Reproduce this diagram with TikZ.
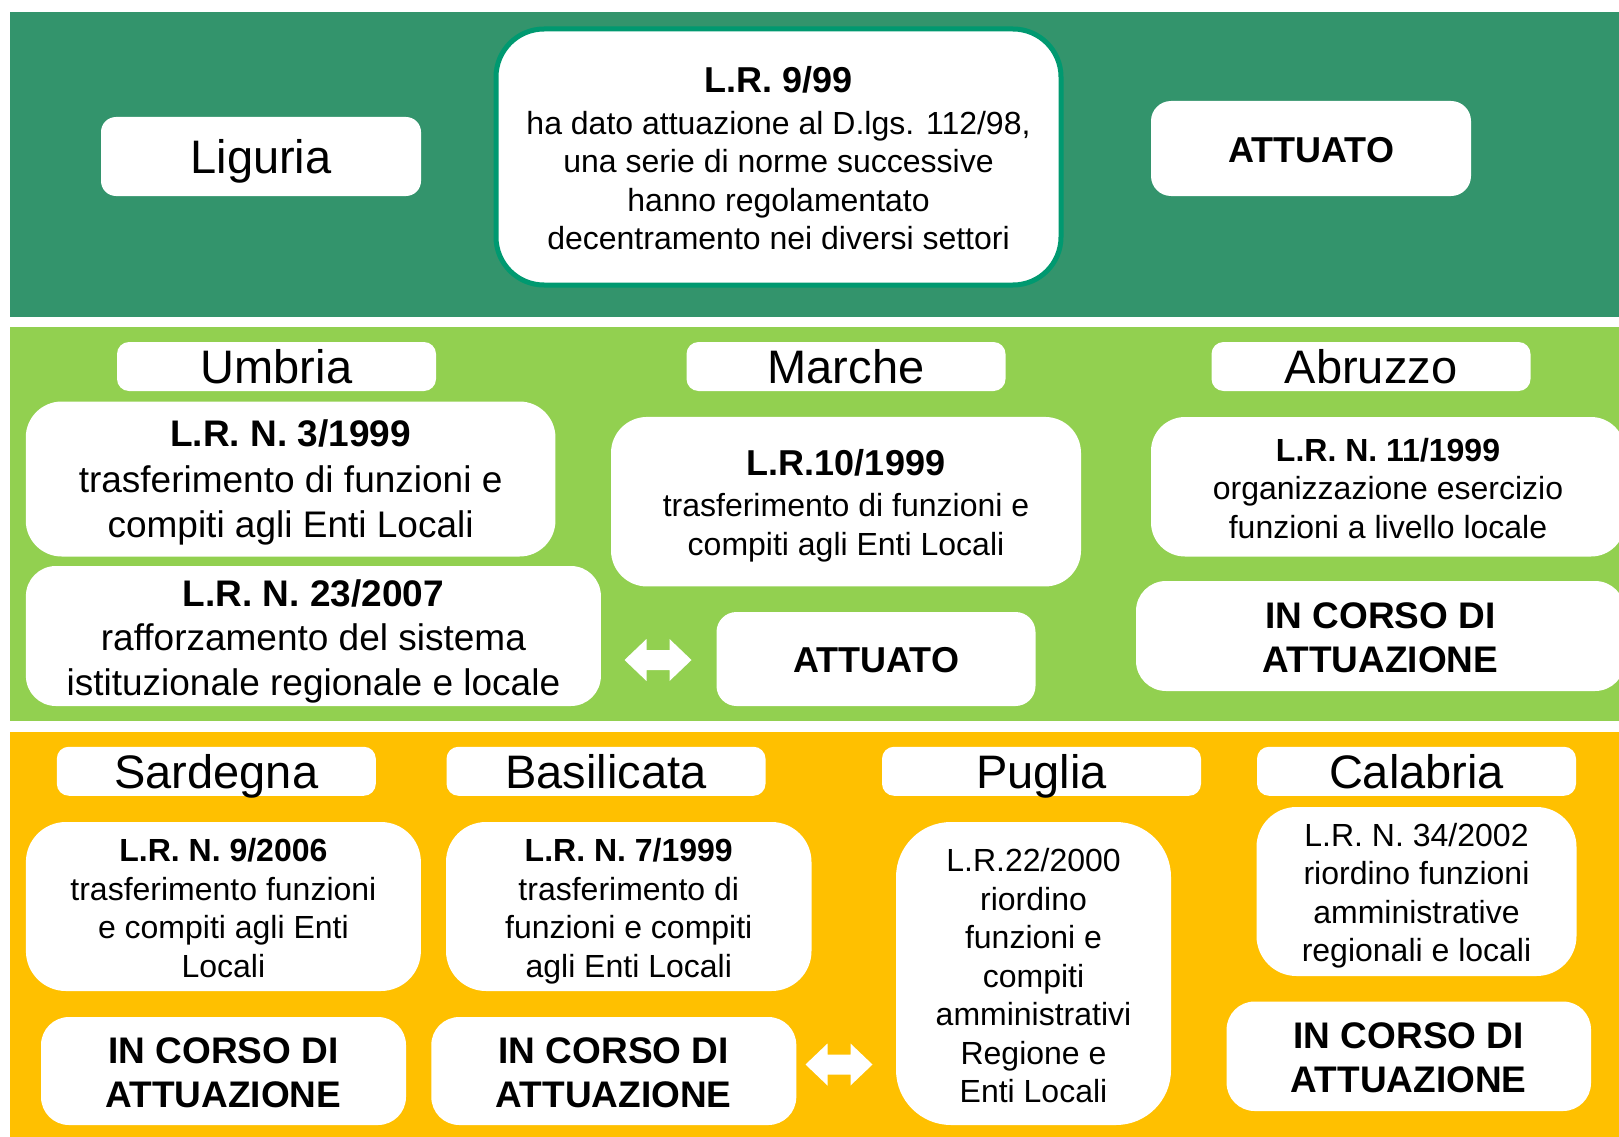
\documentclass[tikz,border=0pt]{standalone}
\usepackage{fontspec}
\setmainfont{Liberation Sans}
\definecolor{topgreen}{RGB}{51,148,108}
\definecolor{midgreen}{RGB}{146,208,80}
\definecolor{gold}{RGB}{255,192,0}
\definecolor{teal}{RGB}{0,153,112}
\tikzset{
  band/.style={fill=#1, draw=none},
  lbl/.style={fill=white, rounded corners=12pt, inner sep=0pt, minimum width=319pt, minimum height=49pt,
    font=\fontsize{47}{56}\selectfont, text height=34pt, text depth=0pt},
  shapebox/.style={fill=white, rounded corners=#1, inner sep=0pt},
  smalltxt/.style={inner sep=0pt, align=center, font=\fontsize{32}{38.5}\selectfont},
  bigtxt/.style={inner sep=0pt, align=center, font=\fontsize{37}{45}\selectfont},
  statustxt/.style={inner sep=0pt, align=center, font=\fontsize{37}{44}\selectfont\bfseries},
  dblarrow/.pic={\fill[white] (-33.5,0) -- (-11.5,-21) -- (-11.5,-10) -- (11.5,-10) -- (11.5,-21)
     -- (33.5,0) -- (11.5,21) -- (11.5,10) -- (-11.5,10) -- (-11.5,21) -- cycle;}
}
\begin{document}
\begin{tikzpicture}[x=1pt,y=-1pt]
\useasboundingbox (0,0) rectangle (1619,1137);
\fill[white] (0,0) rectangle (1619,1137);
% bands
\fill[band=topgreen] (10,12) rectangle (1619,316.7);
\fill[band=midgreen] (10,327) rectangle (1619,721);
\fill[band=gold] (10,732) rectangle (1619,1137);

% --- Liguria row
\node[lbl, minimum width=320pt, minimum height=79pt, rounded corners=15pt] (liguria) at (261,156.5) {Liguria};
\node[shapebox=48pt, draw=teal, line width=5pt, minimum width=565pt, minimum height=256pt] (lr999) at (778.5,157) {};
\node[smalltxt] (lr999t) at ([yshift=-1.5pt]lr999.center)
  {{\fontsize{36}{42}\selectfont\bfseries L.R. 9/99}\\[3pt]
   ha dato attuazione al D.lgs. 112/98,\\
   una serie di norme successive\\
   hanno regolamentato\\
   decentramento nei diversi settori};
\node[shapebox=20pt, minimum width=320pt, minimum height=95pt] (att1) at (1311,148.5) {};
\node[statustxt] (att1t) at ([yshift=-2pt]att1.center) {\fontsize{36}{42}\selectfont ATTUATO};

% --- middle row labels
\node[lbl] (umbria) at (276.5,366.5) {Umbria};
\node[lbl] (marche) at (846,366.5) {Marche};
\node[lbl] (abruzzo) at (1371,366.5) {Abruzzo};

% Umbria
\node[shapebox=36pt, minimum width=529.7pt, minimum height=155pt] (umb1) at (290.6,479) {};
\node[bigtxt, font=\fontsize{37}{45.5}\selectfont] (umb1t) at ([yshift=-3.5pt]umb1.center)
  {{\bfseries L.R. N. 3/1999}\\ trasferimento di funzioni e\\ compiti agli Enti Locali};
\node[shapebox=30pt, minimum width=575pt, minimum height=140pt] (umb2) at (313.4,636) {};
\node[bigtxt, font=\fontsize{37}{44.5}\selectfont] (umb2t) at ([yshift=-5pt]umb2.center)
  {{\bfseries L.R. N. 23/2007}\\ rafforzamento del sistema\\ istituzionale regionale e locale};

% Marche
\node[shapebox=36pt, minimum width=470pt, minimum height=169.5pt] (mar1) at (846,501.7) {};
\node[smalltxt] (mar1t) at ([yshift=-4pt]mar1.center)
  {{\fontsize{36}{42}\selectfont\bfseries L.R.10/1999}\\[3pt] trasferimento di funzioni e\\ compiti agli Enti Locali};
\pic at (658,660) {dblarrow};
\node[shapebox=20pt, minimum width=319pt, minimum height=94pt] (att2) at (876,659) {};
\node[statustxt] (att2t) at ([yshift=-1pt]att2.center) {\fontsize{36}{42}\selectfont ATTUATO};

% Abruzzo
\node[shapebox=34pt, minimum width=474pt, minimum height=139.5pt] (abr1) at (1388,486.75) {};
\node[smalltxt] (abr1t) at ([yshift=-1.5pt]abr1.center)
  {{\bfseries L.R. N. 11/1999}\\ organizzazione esercizio\\ funzioni a livello locale};
\node[shapebox=30pt, minimum width=489pt, minimum height=110pt] (abr2) at (1380.5,636) {};
\node[statustxt] (abr2t) at ([yshift=-2pt]abr2.center) {IN CORSO DI\\ ATTUAZIONE};

% --- bottom row labels
\node[lbl] (sardegna) at (216.3,771.25) {Sardegna};
\node[lbl] (basilicata) at (606,771.25) {Basilicata};
\node[lbl] (puglia) at (1041.5,771.25) {Puglia};
\node[lbl] (calabria) at (1416.5,771.25) {Calabria};

% Sardegna
\node[shapebox=40pt, minimum width=395pt, minimum height=169pt] (sar1) at (223.4,906.5) {};
\node[smalltxt] (sar1t) at ([yshift=-1.5pt]sar1.center)
  {{\bfseries L.R. N. 9/2006}\\ trasferimento funzioni\\ e compiti agli Enti\\ Locali};
\node[shapebox=28pt, minimum width=365pt, minimum height=108pt] (sar2) at (223.5,1071) {};
\node[statustxt] (sar2t) at ([yshift=-2pt]sar2.center) {IN CORSO DI\\ ATTUAZIONE};

% Basilicata
\node[shapebox=40pt, minimum width=365.5pt, minimum height=169pt] (bas1) at (628.75,906.5) {};
\node[smalltxt] (bas1t) at ([yshift=-4.5pt]bas1.center)
  {{\bfseries L.R. N. 7/1999}\\ trasferimento di\\ funzioni e compiti\\ agli Enti Locali};
\node[shapebox=28pt, minimum width=365pt, minimum height=108pt] (bas2) at (613.8,1071) {};
\node[statustxt] (bas2t) at ([yshift=-2pt]bas2.center) {IN CORSO DI\\ ATTUAZIONE};
\pic at (839,1064.5) {dblarrow};

% Puglia
\node[shapebox=55pt, minimum width=275pt, minimum height=303pt] (pug1) at (1033.5,973.5) {};
\node[smalltxt] (pug1t) at ([yshift=-2.5pt]pug1.center)
  {L.R.22/2000\\ riordino\\ funzioni e\\ compiti\\ amministrativi\\ Regione e\\ Enti Locali};

% Calabria
\node[shapebox=40pt, minimum width=320pt, minimum height=169pt] (cal1) at (1416.5,891.5) {};
\node[smalltxt] (cal1t) at ([yshift=-4pt]cal1.center)
  {L.R. N. 34/2002\\ riordino funzioni\\ amministrative\\ regionali e locali};
\node[shapebox=28pt, minimum width=364.4pt, minimum height=109.5pt] (cal2) at (1408.8,1056.25) {};
\node[statustxt] (cal2t) at ([yshift=-2pt]cal2.center) {IN CORSO DI\\ ATTUAZIONE};
\end{tikzpicture}
\end{document}
